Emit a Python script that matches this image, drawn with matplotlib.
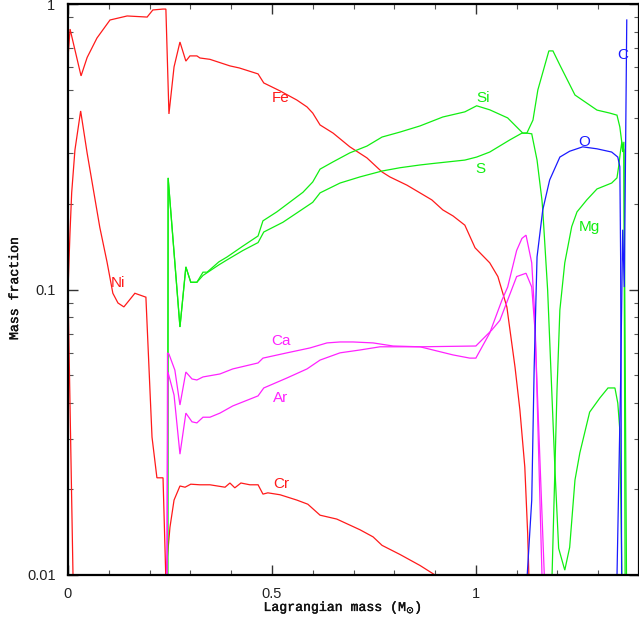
import matplotlib
matplotlib.use("Agg")
import matplotlib.pyplot as plt
import matplotlib.patheffects as pe
from matplotlib.ticker import FixedLocator, NullFormatter, LogLocator

# ---------------- data ----------------
fe_x = [0, 0.005, 0.032, 0.047, 0.071, 0.103, 0.145, 0.194, 0.208, 0.233, 0.240, 0.2475, 0.26, 0.2745, 0.289,
        0.299, 0.316, 0.3235, 0.348, 0.397, 0.42, 0.466, 0.48, 0.52, 0.561, 0.586, 0.60, 0.618, 0.65, 0.691,
        0.733, 0.77, 0.789, 0.831, 0.863, 0.892, 0.919, 0.944, 0.973, 0.998, 1.034, 1.054, 1.076, 1.081, 1.096,
        1.108, 1.12, 1.127, 1.131]
fe_y = [0.647, 0.817, 0.56, 0.65, 0.76, 0.879, 0.908, 0.9, 0.953, 0.96, 0.96, 0.412, 0.602, 0.736, 0.631,
        0.658, 0.658, 0.647, 0.64, 0.607, 0.597, 0.569, 0.529, 0.496, 0.461, 0.436, 0.415, 0.377, 0.353, 0.316,
        0.289, 0.258, 0.248, 0.232, 0.218, 0.206, 0.19, 0.181, 0.168, 0.14, 0.124, 0.111, 0.0869, 0.0769, 0.0535,
        0.0378, 0.0239, 0.014, 0.0089]

ni_x = [0, 0.0049, 0.009, 0.017, 0.031, 0.047, 0.078, 0.0956, 0.110, 0.1225, 0.137, 0.164, 0.191, 0.206, 0.218,
        0.233, 0.2405]
ni_y = [0.0995, 0.158, 0.218, 0.308, 0.422, 0.30, 0.165, 0.125, 0.097, 0.0897, 0.0869, 0.097, 0.094, 0.0304,
        0.0219, 0.0219, 0.009]

cr_x = [0, 0.0123, 0.239, 0.2395, 0.25, 0.26, 0.2745, 0.287, 0.301, 0.3235, 0.348, 0.385, 0.397, 0.409, 0.424,
        0.446, 0.466, 0.478, 0.49, 0.52, 0.561, 0.588, 0.618, 0.659, 0.716, 0.748, 0.77, 0.814, 0.863, 0.9, 0.905]
cr_y = [0.1, 0.0099, 0.005, 0.0099, 0.0147, 0.0183, 0.0205, 0.0203, 0.0208, 0.0207, 0.0207, 0.0203, 0.021,
        0.0202, 0.021, 0.0207, 0.0207, 0.0192, 0.0194, 0.0191, 0.0183, 0.0177, 0.0162, 0.0157, 0.0144, 0.0136,
        0.0127, 0.0118, 0.0108, 0.01, 0.0095]

si_x = [0.2445, 0.2455, 0.2745, 0.289, 0.301, 0.316, 0.331, 0.341, 0.37, 0.39, 0.429, 0.466, 0.478, 0.512,
        0.576, 0.60, 0.618, 0.65, 0.691, 0.733, 0.77, 0.814, 0.863, 0.919, 0.973, 1.002, 1.034, 1.078, 1.10,
        1.115, 1.125, 1.14, 1.152, 1.179, 1.189, 1.206, 1.243, 1.297, 1.328, 1.346, 1.353, 1.358, 1.363, 1.3695]
si_y = [0.009, 0.246, 0.0739, 0.12, 0.106, 0.106, 0.115, 0.115, 0.125, 0.13, 0.142, 0.154, 0.174, 0.187,
        0.219, 0.238, 0.264, 0.28, 0.301, 0.318, 0.342, 0.356, 0.374, 0.402, 0.419, 0.44, 0.426, 0.399, 0.371,
        0.353, 0.353, 0.392, 0.5, 0.685, 0.685, 0.611, 0.48, 0.425, 0.415, 0.408, 0.371, 0.326, 0.308, 0.009]

s_x = [0.2445, 0.2455, 0.2745, 0.289, 0.301, 0.316, 0.331, 0.37, 0.39, 0.429, 0.466, 0.48, 0.527, 0.60, 0.618,
       0.667, 0.716, 0.77, 0.814, 0.863, 0.892, 0.973, 1.002, 1.034, 1.083, 1.113, 1.125, 1.137, 1.15, 1.162,
       1.164, 1.176, 1.186, 1.194, 1.203, 1.218, 1.23, 1.243, 1.255, 1.279, 1.304, 1.324, 1.341, 1.348, 1.353,
       1.358, 1.3585]
s_y = [0.009, 0.246, 0.0739, 0.12, 0.106, 0.106, 0.112, 0.122, 0.127, 0.137, 0.146, 0.159, 0.172, 0.202, 0.218,
       0.236, 0.248, 0.26, 0.267, 0.273, 0.276, 0.284, 0.291, 0.303, 0.334, 0.353, 0.353, 0.351, 0.284, 0.206,
       0.19, 0.0995, 0.0445, 0.0233, 0.0124, 0.0104, 0.0125, 0.0215, 0.0268, 0.0372, 0.0417, 0.0452, 0.0452,
       0.04, 0.0322, 0.0102, 0.009]

mg_x = [1.186, 1.199, 1.206, 1.218, 1.235, 1.248, 1.272, 1.297, 1.333, 1.346, 1.35, 1.355, 1.358, 1.36, 1.363,
        1.366]
mg_y = [0.009, 0.0445, 0.0848, 0.124, 0.166, 0.187, 0.206, 0.225, 0.236, 0.246, 0.269, 0.308, 0.329, 0.303,
        0.329, 0.009]

ca_x = [0.2426, 0.244, 0.2475, 0.262, 0.2745, 0.289, 0.304, 0.316, 0.331, 0.3725, 0.404, 0.466, 0.478, 0.537,
        0.593, 0.635, 0.667, 0.699, 0.748, 0.797, 0.863, 0.944, 0.985, 1.0, 1.034, 1.064, 1.078, 1.10, 1.113,
        1.123, 1.137, 1.145, 1.163]
ca_y = [0.009, 0.06, 0.0594, 0.0522, 0.0394, 0.0514, 0.0486, 0.0482, 0.0494, 0.0506, 0.0527, 0.0553, 0.0575,
        0.06, 0.0624, 0.065, 0.0655, 0.0655, 0.065, 0.0634, 0.063, 0.059, 0.0575, 0.0575, 0.0704, 0.0918, 0.102,
        0.137, 0.151, 0.155, 0.124, 0.0782, 0.009]

ar_x = [0.2426, 0.245, 0.26, 0.2745, 0.289, 0.304, 0.316, 0.331, 0.348, 0.3725, 0.404, 0.466, 0.48, 0.537,
        0.586, 0.618, 0.667, 0.716, 0.765, 0.863, 1.0, 1.039, 1.059, 1.10, 1.123, 1.137, 1.145, 1.169]
ar_y = [0.009, 0.0514, 0.0427, 0.0265, 0.0369, 0.0344, 0.0341, 0.0357, 0.0357, 0.0369, 0.0391, 0.0424, 0.0452,
        0.049, 0.0527, 0.0566, 0.06, 0.0614, 0.063, 0.063, 0.0634, 0.0721, 0.078, 0.111, 0.114, 0.102, 0.0721,
        0.009]

o_x = [1.124, 1.137, 1.143, 1.15, 1.164, 1.181, 1.206, 1.23, 1.262, 1.297, 1.333, 1.348, 1.353, 1.355, 1.3575]
o_y = [0.009, 0.0183, 0.0535, 0.13, 0.19, 0.242, 0.291, 0.305, 0.316, 0.311, 0.303, 0.291, 0.269, 0.127, 0.009]

c_x = [1.3455, 1.355, 1.36, 1.364, 1.370]
c_y = [0.009, 0.0482, 0.162, 0.102, 0.879]

labels = ["Fe", "Ni", "Cr", "Ca", "Ar", "Si", "S", "Mg", "O", "C"]
label_x = [0.522, 0.1225, 0.522, 0.522, 0.522, 1.017, 1.012, 1.279, 1.265, 1.36]
label_y = [0.469, 0.105, 0.0208, 0.066, 0.0417, 0.469, 0.264, 0.166, 0.329, 0.663]

x_ticks = [0, 0.5, 1]
x_ticklabels = ["0", "0.5", "1"]
y_ticks = [0.01, 0.1, 1]
y_ticklabels = ["0.01", "0.1", "1"]

RED = "#ff1a1a"
GREEN = "#11ee11"
MAG = "#ff22ff"
BLUE = "#1a1aff"

series = [
    (fe_x, fe_y, RED), (ni_x, ni_y, RED), (cr_x, cr_y, RED),
    (si_x, si_y, GREEN), (s_x, s_y, GREEN), (mg_x, mg_y, GREEN),
    (ca_x, ca_y, MAG), (ar_x, ar_y, MAG),
    (o_x, o_y, BLUE), (c_x, c_y, BLUE),
]
label_colors = [RED, RED, RED, MAG, MAG, GREEN, GREEN, GREEN, BLUE, BLUE]

# ---------------- figure ----------------
fig = plt.figure(figsize=(6.39, 6.30), dpi=100)
ax = fig.add_axes([68 / 639, 55 / 630, 571 / 639, 571 / 630])

for xs, ys, col in series:
    ax.plot(xs, ys, color=col, lw=0.9, solid_joinstyle="miter")

for t, lx, ly, col in zip(labels, label_x, label_y, label_colors):
    ax.text(lx, ly, t, color=col, fontsize=11, ha="center", va="center",
            family="Liberation Sans")

ax.set_yscale("log")
ax.set_xlim(0, 1.4)
ax.set_ylim(0.01, 1)

ax.xaxis.set_major_locator(FixedLocator(x_ticks))
ax.set_xticklabels(x_ticklabels)
ax.xaxis.set_minor_locator(FixedLocator([0.1, 0.2, 0.3, 0.4, 0.6, 0.7, 0.8, 0.9, 1.1, 1.2, 1.3]))
ax.yaxis.set_major_locator(FixedLocator(y_ticks))
ax.set_yticklabels(y_ticklabels)
ax.yaxis.set_minor_locator(LogLocator(base=10, subs=range(2, 10)))
ax.yaxis.set_minor_formatter(NullFormatter())

ax.tick_params(which="both", direction="in", top=True, right=True)
ax.tick_params(which="major", length=7.5, width=1.0, pad=9, labelsize=10.5, labelcolor="#222222",
               color="#333333")
ax.tick_params(which="minor", length=3.8, width=0.8, color="#555555")
for lab in ax.get_xticklabels() + ax.get_yticklabels():
    lab.set_family("Liberation Sans")

for sp in ax.spines.values():
    sp.set_linewidth(1.6)
    sp.set_color("black")

stroke = [pe.withStroke(linewidth=0.3, foreground="#111111")]
fig.text(343 / 639, 1 - 608 / 630, r"Lagrangian mass (M$_{\odot}$)", ha="center", va="center",
         fontsize=9.5, family="Liberation Mono", color="#111111", path_effects=stroke)
fig.text(15 / 639, 1 - 288 / 630, "Mass fraction", ha="center", va="center", rotation=90,
         fontsize=9.5, family="Liberation Mono", color="#111111", path_effects=stroke)

fig.savefig("out.png", dpi=100)
